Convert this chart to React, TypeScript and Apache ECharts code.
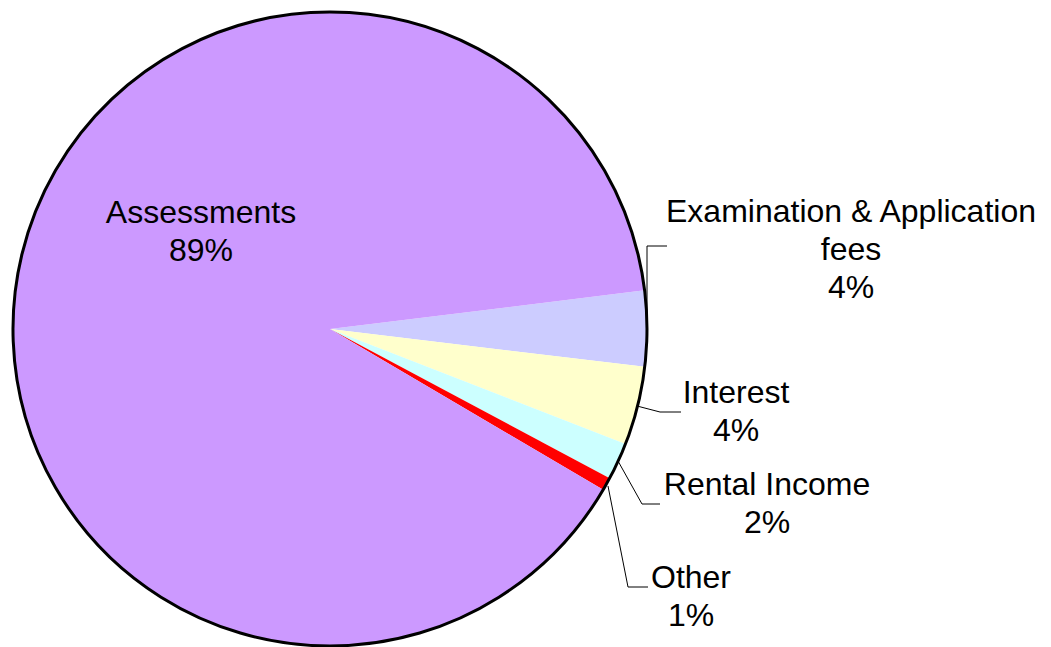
import React, { useEffect, useRef } from "react";
import * as echarts from "echarts";

const categories = [
  "Examination & Application fees",
  "Interest",
  "Rental Income",
  "Other",
  "Assessments",
];
const shares = [3.85, 4.0, 1.9, 0.66, 89.59];
const sliceColors = ["#CCCCFF", "#FFFFCC", "#CCFFFF", "#FF0000", "#CC99FF"];

// label layout (positions only)
const labelCenters: [number, number][] = [
  [851, 249],
  [736, 411],
  [767, 503],
  [691, 596],
  [201, 231],
];
const leaderLines: ([number, number][] | null)[] = [
  [[647, 329], [647, 246], [667, 246]],
  [[637, 406], [660, 412], [681, 412]],
  [[618, 461], [642, 504], [660, 504]],
  [[608, 486], [628, 587], [648, 587]],
  null,
];

export default function App() {
  const ref = useRef<HTMLDivElement>(null);
  useEffect(() => {
    document.body.style.margin = "0";
    const chart = echarts.init(ref.current!, null, { renderer: "svg" });
    const font = "'Liberation Sans', Arial, sans-serif";
    chart.setOption({
      animation: false,
      backgroundColor: "#ffffff",
      series: [
        {
          type: "pie",
          center: [330, 329],
          radius: 317,
          startAngle: 7,
          clockwise: true,
          avoidLabelOverlap: false,
          percentPrecision: 0,
          itemStyle: { borderWidth: 0 },
          emphasis: { disabled: true },
          data: categories.map((name, i) => ({
            name,
            value: shares[i],
            itemStyle: { color: sliceColors[i] },
            label: { position: leaderLines[i] ? "outside" : "inside" },
            labelLine: { show: !!leaderLines[i] },
          })),
          label: {
            show: true,
            color: "#000",
            fontFamily: font,
            fontSize: 32,
            lineHeight: 38,
            align: "center",
            formatter: (p: any) =>
              p.name.replace(" fees", "\nfees") + "\n" + p.percent + "%",
          },
          labelLine: {
            show: true,
            lineStyle: { color: "#000", width: 1 },
          },
          labelLayout: (params: any) => {
            const i = params.dataIndex;
            const c = labelCenters[i];
            const res: any = {
              x: c[0],
              y: c[1],
              align: "center",
              verticalAlign: "middle",
            };
            if (leaderLines[i]) res.labelLinePoints = leaderLines[i];
            return res;
          },
        },
        {
          type: "pie",
          center: [330, 329],
          radius: 317,
          silent: true,
          label: { show: false },
          labelLine: { show: false },
          emphasis: { disabled: true },
          itemStyle: {
            color: "rgba(0,0,0,0)",
            borderColor: "#000",
            borderWidth: 3,
          },
          data: [{ value: 1, name: "outline" }],
        },
      ],
    });
    return () => chart.dispose();
  }, []);
  return <div ref={ref} style={{ width: 1051, height: 647 }} />;
}
